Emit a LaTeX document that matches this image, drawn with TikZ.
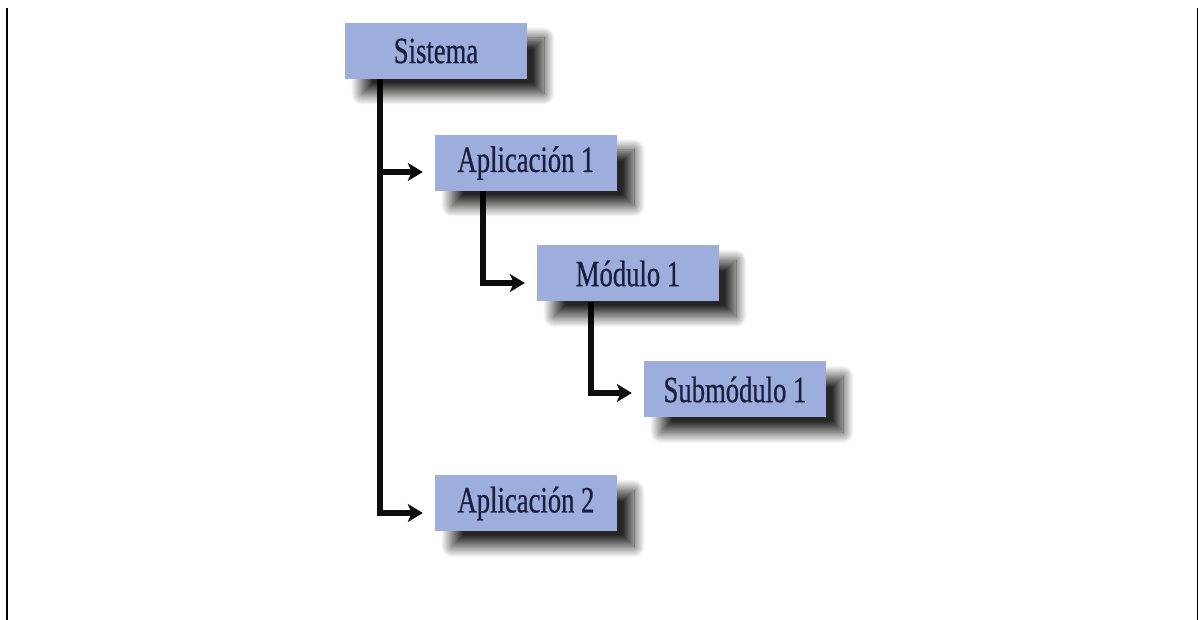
\documentclass[tikz,border=0pt]{standalone}
\usepackage{fontspec}
\usepackage{tikz}
\usetikzlibrary{shadows.blur,arrows.meta}
\newfontfamily\boxfont[FakeStretch=0.72,FakeBold=0.6]{Liberation Serif}
\definecolor{boxblue}{HTML}{9DAEDD}
\definecolor{boxtext}{HTML}{18203F}
\definecolor{connblack}{HTML}{0D0D0D}
\pgfdeclarelayer{background}
\pgfsetlayers{background,main}

\begin{document}
\begin{tikzpicture}[x=1pt,y=1pt,
		level/.style={fill=boxblue, text=boxtext, minimum width=182pt, minimum height=56pt, inner sep=0pt,
			font=\boxfont\fontsize{37}{40}\selectfont,
			blur shadow={shadow xshift=17pt, shadow yshift=-15pt, shadow blur radius=11pt, shadow blur steps=30, shadow opacity=85}},
		conn/.style={connblack, line width=6pt, -{Stealth[length=15pt,width=18pt,inset=4pt]}, shorten >=12pt}]
		\useasboundingbox (0,0) rectangle (1199,620);
		
		%frame sides
		\draw[line width=2pt] (7,612) -- (7,0);
		\draw[line width=1.5pt] (1197.5,612) -- (1197.5,0);
		
		%levels
		\node[level] (sis) at (436,569) {Sistema};
		\node[level] (app1) at (526,457) {Aplicación 1};
		\node[level] (mod1) at (628,346.5) {Módulo 1};
		\node[level] (sub1) at (735,230.5) {Submódulo 1};
		\node[level] (app2) at (526,116.5) {Aplicación 2};
		
		%connectors
		\begin{pgfonlayer}{background}
		\draw[conn] ([xshift=35pt]sis.south west) |- ([yshift=-9pt]app1.west);
		\draw[conn] ([xshift=35pt]sis.south west) |- ([yshift=-9.5pt]app2.west);
		\draw[conn] ([xshift=48pt]app1.south west) |- ([yshift=-9.5pt]mod1.west);
		\draw[conn] ([xshift=54pt]mod1.south west) |- ([yshift=-3.5pt]sub1.west);
		\end{pgfonlayer}
\end{tikzpicture}
\end{document}
